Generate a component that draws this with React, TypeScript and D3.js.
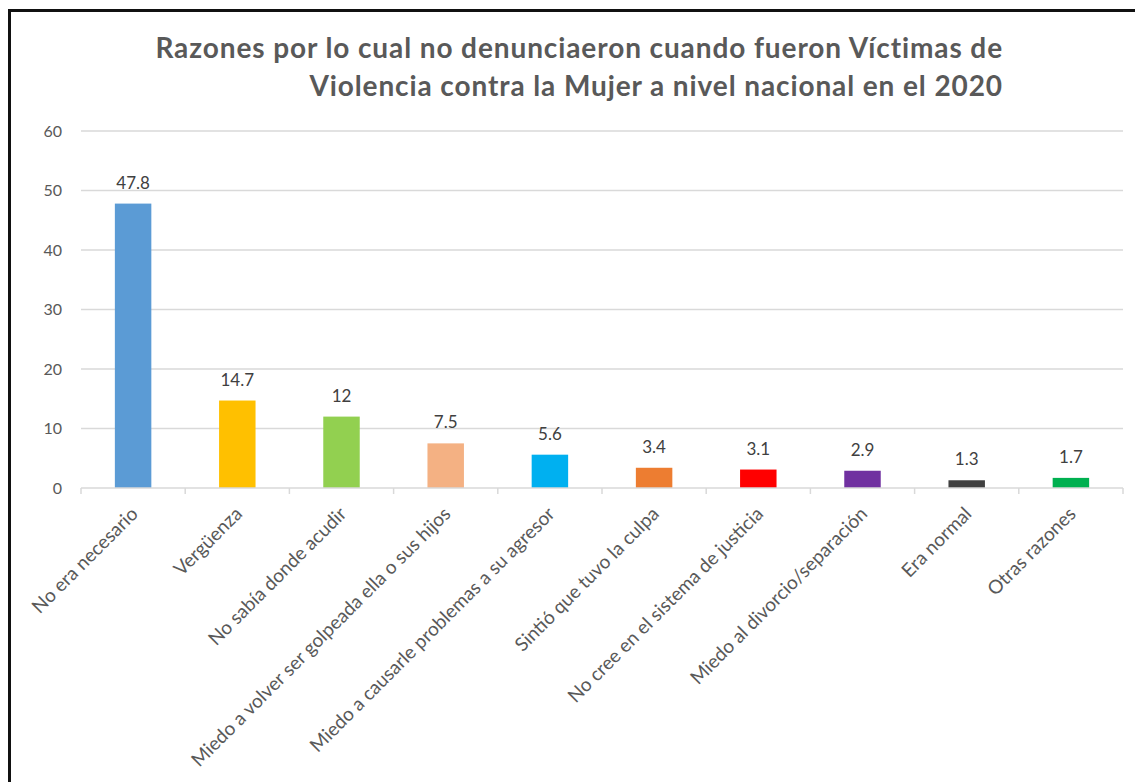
import React from "react";
import * as d3 from "d3";

const categories = [
  "No era necesario",
  "Vergüenza",
  "No sabía donde acudir",
  "Miedo a volver ser golpeada ella o sus hijos",
  "Miedo a causarle problemas a su agresor",
  "Sintió que tuvo la culpa",
  "No cree en el sistema de justicia",
  "Miedo al divorcio/separación",
  "Era normal",
  "Otras razones",
];
const values = [47.8, 14.7, 12, 7.5, 5.6, 3.4, 3.1, 2.9, 1.3, 1.7];
const colors = [
  "#5b9bd5",
  "#ffc000",
  "#92d050",
  "#f4b183",
  "#00b0f0",
  "#ed7d31",
  "#ff0000",
  "#7030a0",
  "#404040",
  "#00b050",
];
const yTicks = [0, 10, 20, 30, 40, 50, 60];
const titleLines = [
  "Razones por lo cual no denunciaeron cuando fueron Víctimas de",
  "Violencia contra la Mujer a nivel nacional en el 2020",
];

const W = 1135;
const H = 782;
const left = 81;
const right = 1123;
const top = 131;
const bottom = 488;

export default function App() {
  const x = d3
    .scaleBand<string>()
    .domain(categories)
    .range([left, right])
    .paddingInner(0.65)
    .paddingOuter(0.325);
  const y = d3.scaleLinear().domain([0, 60]).range([bottom, top]);
  const step = x.step();
  const edges = d3.range(categories.length + 1).map((i) => left + i * step);
  const font = "Lato, 'Open Sans', sans-serif";

  return (
    <svg
      width={W}
      height={H}
      style={{ position: "absolute", left: 0, top: 0, background: "#fff" }}
    >
      <rect x={0} y={0} width={W} height={H} fill="#fff" />
      {/* frame */}
      <path d={`M9.5,${H} V10.5 H${W}`} fill="none" stroke="#111" strokeWidth={3} />

      {/* title */}
      {titleLines.map((t, i) => (
        <text
          key={i}
          x={1003}
          y={58 + i * 38}
          textAnchor="end"
          fontFamily={font}
          fontWeight="bold"
          fontSize={28}
          letterSpacing={0.9}
          fill="#595959"
        >
          {t}
        </text>
      ))}

      {/* gridlines */}
      {yTicks.slice(1).map((t) => (
        <line
          key={t}
          x1={left}
          x2={right}
          y1={y(t)}
          y2={y(t)}
          stroke="#d9d9d9"
          strokeWidth={1.3}
        />
      ))}

      {/* y tick labels */}
      {yTicks.map((t) => (
        <text
          key={t}
          x={62}
          y={y(t)}
          dy="0.35em"
          textAnchor="end"
          fontFamily={font}
          fontSize={16}
          fill="#595959"
        >
          {t}
        </text>
      ))}

      {/* bars */}
      {values.map((v, i) => (
        <rect
          key={i}
          x={x(categories[i])}
          y={y(v)}
          width={x.bandwidth()}
          height={y(0) - y(v)}
          fill={colors[i]}
        />
      ))}

      {/* axis */}
      <line x1={left} x2={right} y1={bottom} y2={bottom} stroke="#d9d9d9" strokeWidth={1.5} />
      {edges.map((e, i) => (
        <line key={i} x1={e} x2={e} y1={bottom} y2={bottom + 6} stroke="#d9d9d9" strokeWidth={1.5} />
      ))}

      {/* value labels */}
      {values.map((v, i) => (
        <text
          key={i}
          x={(x(categories[i]) as number) + x.bandwidth() / 2}
          y={y(v) - 15}
          textAnchor="middle"
          fontFamily={font}
          fontSize={17}
          fill="#404040"
        >
          {String(v)}
        </text>
      ))}

      {/* x labels */}
      {categories.map((c) => {
        const cx = (x(c) as number) + x.bandwidth() / 2;
        return (
          <text
            key={c}
            transform={`translate(${cx - 4},${bottom + 17}) rotate(-45)`}
            dy="0.75em"
            textAnchor="end"
            fontFamily={font}
            fontSize={19}
            fill="#595959"
          >
            {c}
          </text>
        );
      })}
    </svg>
  );
}
